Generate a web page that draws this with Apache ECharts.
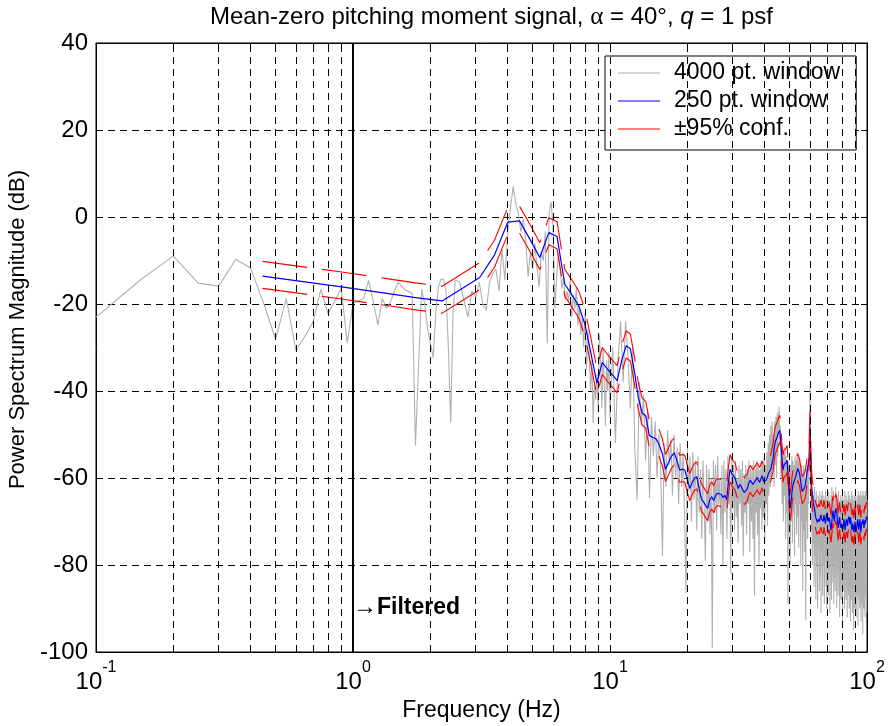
<!DOCTYPE html>
<html>
<head>
<meta charset="utf-8">
<script src="https://cdn.jsdelivr.net/npm/echarts@6/dist/echarts.min.js"></script>
<style>html,body{margin:0;padding:0;background:#fff}#c{width:888px;height:726px}</style>
</head>
<body>
<div id="c"></div>
<script>
// ---------------- DATA ----------------
const xMajorHz = [0.1, 1, 10, 100];
const xTickHz = [0.1,0.2,0.3,0.4,0.5,0.6,0.7,0.8,0.9,1,2,3,4,5,6,7,8,9,10,20,30,40,50,60,70,80,90,100];
const verticalGridHz = [0.2,0.3,0.4,0.5,0.6,0.7,0.8,0.9,2,3,4,5,6,7,8,9,10,20,30,40,50,60,70,80,90];
const filterCutoffHz = 1;
const filteredLabelAtDb = -89.7;

const seriesNames = ['4000 pt. window', '250 pt. window', '±95% conf.'];

// 4000 pt. window spectrum, in three uniformly spaced frequency segments
const grayLowStartHz = 0.10, grayLowStepHz = 0.05;
const grayLowDb = [
  -23,-14.3,-9,-15.2,-15.9,-9.7,-11.8,-20,-28.1,-18.7,
  -30.7,-27.4,-24.1,-16.6,-22.3,-19.3,-16.4,-29,-19.8,-19.3,
  -18.7,-14.6,-19.5,-24.8,-18.7,-21,-19.5,-17,-15,-16,
  -16.8,-17.2,-17.6,-52.6,-34,-16.6,-20,-25.6,-29,-32.3,
  -22,-16,-14.3,-14.3,-17,-30,-47.3,-22,-14.5
];
const grayMidStartHz = 2.6, grayMidStepHz = 0.1;
const grayMidDb = [
  -15,-19,-23,-17,-18.4,-15,-20,-21.4,-15,-13,
  -12,-17,-7.3,-14.5,-3.4,2,7,3,0.8,-3.4,
  -0.4,-5.5,-13.7,-8,-12,-6,-11.7,-16,-8,-10,
  -3.4,-29,1,3.5,-2,-21,-13.7,-8.3,-12,-16.4,
  -14,-19,-17,-19.5,-14.2,-23,-18,-21,-16,-25,
  -20.3,-27,-23,-30,-22,-35,-26,-31,-40,-33,
  -47.4,-38,-42,-36,-45,-27,-34,-44,-30,-38,
  -48,-33,-40,-31,-46
];
const grayHighStartHz = 10.25, grayHighStepHz = 0.25;
const grayHighDb = [
  -30,-52,-33,-24,  -38,-24,-32,-44,  -30,-53.6,-65,-38,  -48,-41,-56,-44,  -64.6,-46,-55,-47,
  -60,-50,-58,-78,  -52,-62,-49,-57,  -51,-64,-50,-60,  -53,-66,-52,-62,  -54,-68,-86.5,-53,
  -63,-55,-70,-54,  -65,-56,-72,-55,  -68,-58,-74,-56,  -66,-79,-57,-70,  -58,-73,-60,-99,
  -56,-68,-57,-72,  -55,-66,-60,-73,  -57,-80,-56,-68,  -58,-74,-55,-66,  -59,-82,-55,-67,
  -57,-72,-56,-69,  -60,-75,-57,-66,  -58,-71,-56,-78,  -59,-68,-57,-73,  -58,-66,-56,-77,
  -58,-70,-57,-74,  -56,-87,-58,-68,  -56,-73,-57,-80,  -58,-67,-56,-72,  -57,-69,-55,-75,
  -57,-66,-54,-71,  -52,-64,-50,-62,  -48,-60,-47,-58,  -50,-62,-47,-57,  -46,-60,-45,-55,
  -46,-43.6,-52,-48,  -60,-52,-66,-55,  -70,-54,-64,-53,  -74,-55,-68,-57,  -89,-56,-72,-58,
  -80,-57,-70,-55,  -75,-56,-68,-57,  -78,-55,-66,-56,  -73,-54,-69,-55,  -76,-56,-66,-58,
  -80,-57,-70,-59,  -86,-57,-72,-58,  -77,-60,-92.6,-58,  -70,-57,-74,-56,  -66,-55,-48,-39,
  -52,-60,-72,-62,  -80,-63,-75,-64,  -85,-62,-78,-65,  -88,-63,-80,-66,  -90,-64,-76,-65,
  -86,-63,-82,-66,  -91,-64,-77,-63,  -87,-65,-80,-64,  -89,-66,-78,-63,  -85,-65,-90,-64,
  -79,-66,-87,-63,  -82,-65,-91,-66,  -78,-64,-88,-62,  -84,-65,-80,-63,  -89,-66,-83,-64,
  -86,-62,-79,-65,  -90,-64,-82,-66,  -87,-63,-81,-65,  -92,-66,-84,-64,  -88,-65,-79,-66,
  -94.5,-64,-83,-67,  -86,-65,-90,-63,  -80,-66,-88,-64,  -85,-65,-92,-66,  -81,-63,-87,-65,
  -90,-64,-83,-66,  -93,-65,-84,-63,  -88,-66,-91,-64,  -82,-65,-95,-66,  -86,-64,-90,-63,
  -84,-65,-92,-66,  -87,-64,-83,-65,  -94,-63,-88,-66,  -81,-64,-90,-65,  -86,-63,-93,-66,
  -84,-64,-89,-65,  -96,-63,-85,-66,  -90,-64,-82,-65,  -92,-63,-87,-66,  -84,-64,-91,-65
];

// 250 pt. window spectrum and 95% confidence bounds, bins k*4/9 Hz (k = 1..225)
const welchStartHz = 4 / 9, welchStepHz = 4 / 9;
const blueDb = [
  -13.6,-16.0,-17.5,-18.6,-19.3,-16.4,-13.9,-8.7,-1.2,-0.9,
  -5.2,-9.3,-3.6,-4.5,-15.4,-17.9,-20.4,-24.8,-31.5,-38.2,
  -33.4,-35.0,-36.3,-37.6,-32.9,-29.6,-30.3,-35.5,-41.5,-45.0,
  -45.8,-50.2,-50.7,-51.0,-52.4,-54.5,-58.0,-56.5,-55.0,-54.2,
  -56.0,-58.2,-58.0,-58.2,-60.5,-62.4,-61.0,-60.0,-59.7,-62.5,
  -64.7,-65.5,-66.3,-67.0,-65.0,-64.3,-65.2,-64.0,-63.5,-63.1,
  -63.8,-64.5,-64.0,-65.0,-61.0,-58.0,-59.0,-59.5,-60.0,-61.3,
  -62.4,-61.5,-62.0,-62.8,-63.3,-63.5,-62.5,-61.2,-60.5,-60.2,
  -61.5,-61.8,-60.5,-59.9,-60.3,-61.0,-60.2,-59.5,-60.8,-61.2,
  -60.5,-60.0,-59.0,-58.5,-58.0,-57.6,-55.5,-53.0,-51.5,-51.0,
  -50.2,-49.5,-49.0,-52.0,-55.5,-58.2,-57.0,-57.0,-56.5,-55.9,
  -60.0,-64.0,-67.0,-65.5,-63.0,-61.5,-60.8,-60.5,-59.5,-58.5,
  -57.8,-57.8,-59.0,-60.5,-62.0,-63.1,-63.1,-62.5,-62.0,-61.0,
  -59.5,-58.0,-57.0,-55.0,-48.2,-56.0,-62.0,-64.0,-65.6,-66.5,
  -67.5,-69.0,-69.5,-70.2,-70.4,-69.5,-70.0,-69.0,-68.5,-69.5,
  -69.3,-70.0,-68.5,-69.5,-70.5,-69.0,-68.0,-69.5,-70.0,-69.0,
  -69.7,-71.0,-72.0,-70.5,-68.5,-67.5,-69.0,-70.0,-68.0,-67.0,
  -67.0,-68.5,-70.5,-71.5,-70.0,-69.0,-70.5,-71.5,-70.5,-71.2,
  -72.0,-71.0,-69.5,-70.5,-72.0,-70.5,-69.5,-70.0,-71.0,-69.5,
  -68.9,-69.5,-70.5,-69.0,-70.0,-71.5,-72.0,-70.5,-71.0,-72.5,
  -71.6,-70.0,-71.5,-72.5,-71.6,-70.5,-69.5,-71.0,-72.0,-70.5,
  -69.5,-71.0,-72.5,-71.0,-70.0,-70.5,-69.5,-70.2,-71.5,-70.5,
  -69.7,-70.5,-69.5,-68.9,-69.5
];
const ciUpperDb = [
  -10.2,-12.6,-14.1,-15.2,-15.9,-13.0,-10.5,-5.3,2.2,2.5,
  -1.8,-5.9,-0.2,-1.1,-12.0,-14.5,-17.0,-21.4,-28.1,-34.8,
  -30.0,-31.6,-32.9,-34.2,-29.5,-26.2,-26.9,-32.1,-38.1,-41.6,
  -42.4,-46.8,-47.3,-47.6,-49.0,-51.1,-54.6,-53.1,-51.6,-50.8,
  -52.6,-54.8,-54.6,-54.8,-57.1,-59.0,-57.6,-56.6,-56.3,-59.1,
  -61.3,-62.1,-62.9,-63.6,-61.6,-60.9,-61.8,-60.6,-60.1,-59.7,
  -60.4,-61.1,-60.6,-61.6,-57.6,-54.6,-55.6,-56.1,-56.6,-57.9,
  -59.0,-58.1,-58.6,-59.4,-59.9,-60.1,-59.1,-57.8,-57.1,-56.8,
  -58.1,-58.4,-57.1,-56.5,-56.9,-57.6,-56.8,-56.1,-57.4,-57.8,
  -57.1,-56.6,-55.6,-55.1,-54.6,-54.2,-52.1,-49.6,-48.1,-47.6,
  -46.8,-46.1,-45.6,-48.6,-52.1,-54.8,-53.6,-53.6,-53.1,-52.5,
  -56.6,-60.6,-63.6,-62.1,-59.6,-58.1,-57.4,-57.1,-56.1,-55.1,
  -54.4,-54.4,-55.6,-57.1,-58.6,-59.7,-59.7,-59.1,-58.6,-57.6,
  -56.1,-54.6,-53.6,-51.6,-44.8,-52.6,-58.6,-60.6,-62.2,-63.1,
  -64.1,-65.6,-66.1,-66.8,-67.0,-66.1,-66.6,-65.6,-65.1,-66.1,
  -65.9,-66.6,-65.1,-66.1,-67.1,-65.6,-64.6,-66.1,-66.6,-65.6,
  -66.3,-67.6,-68.6,-67.1,-65.1,-64.1,-65.6,-66.6,-64.6,-63.6,
  -63.6,-65.1,-67.1,-68.1,-66.6,-65.6,-67.1,-68.1,-67.1,-67.8,
  -68.6,-67.6,-66.1,-67.1,-68.6,-67.1,-66.1,-66.6,-67.6,-66.1,
  -65.5,-66.1,-67.1,-65.6,-66.6,-68.1,-68.6,-67.1,-67.6,-69.1,
  -68.2,-66.6,-68.1,-69.1,-68.2,-67.1,-66.1,-67.6,-68.6,-67.1,
  -66.1,-67.6,-69.1,-67.6,-66.6,-67.1,-66.1,-66.8,-68.1,-67.1,
  -66.3,-67.1,-66.1,-65.5,-66.1
];
const ciLowerDb = [
  -16.4,-18.8,-20.3,-21.4,-22.1,-19.2,-16.7,-11.5,-4.0,-3.7,
  -8.0,-12.1,-6.4,-7.3,-18.2,-20.7,-23.2,-27.6,-34.3,-41.0,
  -36.2,-37.8,-39.1,-40.4,-35.7,-32.4,-33.1,-38.3,-44.3,-47.8,
  -48.6,-53.0,-53.5,-53.8,-55.2,-57.3,-60.8,-59.3,-57.8,-57.0,
  -58.8,-61.0,-60.8,-61.0,-63.3,-65.2,-63.8,-62.8,-62.5,-65.3,
  -67.5,-68.3,-69.1,-69.8,-67.8,-67.1,-68.0,-66.8,-66.3,-65.9,
  -66.6,-67.3,-66.8,-67.8,-63.8,-60.8,-61.8,-62.3,-62.8,-64.1,
  -65.2,-64.3,-64.8,-65.6,-66.1,-66.3,-65.3,-64.0,-63.3,-63.0,
  -64.3,-64.6,-63.3,-62.7,-63.1,-63.8,-63.0,-62.3,-63.6,-64.0,
  -63.3,-62.8,-61.8,-61.3,-60.8,-60.4,-58.3,-55.8,-54.3,-53.8,
  -53.0,-52.3,-51.8,-54.8,-58.3,-61.0,-59.8,-59.8,-59.3,-58.7,
  -62.8,-66.8,-69.8,-68.3,-65.8,-64.3,-63.6,-63.3,-62.3,-61.3,
  -60.6,-60.6,-61.8,-63.3,-64.8,-65.9,-65.9,-65.3,-64.8,-63.8,
  -62.3,-60.8,-59.8,-57.8,-51.0,-58.8,-64.8,-66.8,-68.4,-69.3,
  -70.3,-71.8,-72.3,-73.0,-73.2,-72.3,-72.8,-71.8,-71.3,-72.3,
  -72.1,-72.8,-71.3,-72.3,-73.3,-71.8,-70.8,-72.3,-72.8,-71.8,
  -72.5,-73.8,-74.8,-73.3,-71.3,-70.3,-71.8,-72.8,-70.8,-69.8,
  -69.8,-71.3,-73.3,-74.3,-72.8,-71.8,-73.3,-74.3,-73.3,-74.0,
  -74.8,-73.8,-72.3,-73.3,-74.8,-73.3,-72.3,-72.8,-73.8,-72.3,
  -71.7,-72.3,-73.3,-71.8,-72.8,-74.3,-74.8,-73.3,-73.8,-75.3,
  -74.4,-72.8,-74.3,-75.3,-74.4,-73.3,-72.3,-73.8,-74.8,-73.3,
  -72.3,-73.8,-75.3,-73.8,-72.8,-73.3,-72.3,-73.0,-74.3,-73.3,
  -72.5,-73.3,-72.3,-71.7,-72.3
];

// ---------------- BUILD ----------------
function pairs(startHz, stepHz, values) {
  return values.map((v, i) => [+(startHz + i * stepHz).toFixed(5), v]);
}
const grayData = pairs(grayLowStartHz, grayLowStepHz, grayLowDb)
  .concat(pairs(grayMidStartHz, grayMidStepHz, grayMidDb))
  .concat(pairs(grayHighStartHz, grayHighStepHz, grayHighDb));
const blueData = pairs(welchStartHz, welchStepHz, blueDb);
const upperData = pairs(welchStartHz, welchStepHz, ciUpperDb);
const lowerData = pairs(welchStartHz, welchStepHz, ciLowerDb);

const FONT = '"Liberation Sans", Arial, Helvetica, sans-serif';
const GRID_DASH = [7, 5];

const chart = echarts.init(document.getElementById('c'), null, { renderer: 'canvas' });

const xAxisCommon = {
  type: 'log', logBase: 10, min: 0.1, max: 100,
  axisLine: { show: true, onZero: false, lineStyle: { color: '#000', width: 1 } },
  axisTick: { show: true, inside: true, length: 6, lineStyle: { color: '#000' }, customValues: xTickHz },
  splitLine: { show: false },
  minorTick: { show: false },
  minorSplitLine: { show: false }
};
const yAxisCommon = {
  type: 'value', min: -100, max: 40, interval: 20,
  axisLine: { show: true, onZero: false, lineStyle: { color: '#000', width: 1 } },
  axisTick: { show: true, inside: true, length: 6, lineStyle: { color: '#000' } }
};

const option = {
  backgroundColor: '#fff',
  animation: false,
  title: {
    text: '{n|Mean-zero pitching moment signal, }{g|α}{n| = 40°, }{i|q}{n| = 1 psf}',
    left: 205, top: 0,
    textStyle: {
      fontWeight: 'normal',
      rich: {
        n: { fontFamily: FONT, fontSize: 24, fontWeight: 'normal', color: '#000' },
        g: { fontFamily: '"Liberation Serif", serif', fontSize: 25, fontWeight: 'normal', color: '#000' },
        i: { fontFamily: FONT, fontSize: 24, fontStyle: 'italic', fontWeight: 'normal', color: '#000' }
      }
    }
  },
  grid: {
    left: 96, right: 21, top: 43, bottom: 74,
    outerBoundsMode: 'none', containLabel: false,
    show: true, borderColor: '#000', borderWidth: 1, backgroundColor: '#fff'
  },
  legend: {
    data: seriesNames.map(n => ({ name: n, icon: 'rect' })),
    orient: 'vertical',
    left: 605, top: 56,
    padding: [3, 16, 7, 13],
    itemGap: 0,
    itemWidth: 42, itemHeight: 1.2,
    backgroundColor: '#fff',
    borderColor: '#000', borderWidth: 1,
    selectedMode: false,
    textStyle: { fontFamily: FONT, fontSize: 23, color: '#000', lineHeight: 28, padding: [0, 0, 0, 9] }
  },
  xAxis: [
    Object.assign({}, xAxisCommon, {
      position: 'bottom',
      axisLabel: {
        show: true, margin: 8, customValues: xMajorHz,
        formatter: v => '{b|10}{s|' + Math.round(Math.log10(v)) + '}',
        rich: {
          b: { fontFamily: FONT, fontSize: 24, color: '#000', lineHeight: 34, verticalAlign: 'bottom' },
          s: { fontFamily: FONT, fontSize: 16, color: '#000', lineHeight: 18, verticalAlign: 'top' }
        }
      },
      name: 'Frequency (Hz)', nameLocation: 'middle', nameGap: 47,
      nameTextStyle: { fontFamily: FONT, fontSize: 23, color: '#000' }
    }),
    Object.assign({}, xAxisCommon, { position: 'top', axisLabel: { show: false } })
  ],
  yAxis: [
    Object.assign({}, yAxisCommon, {
      position: 'left',
      axisLabel: { show: true, margin: 8, fontFamily: FONT, fontSize: 24, color: '#000' },
      splitLine: { show: true, lineStyle: { type: GRID_DASH, color: '#000', width: 1 } },
      name: 'Power Spectrum Magnitude (dB)', nameLocation: 'middle', nameGap: 60, nameRotate: 90,
      nameTextStyle: { fontFamily: FONT, fontSize: 22, color: '#000', padding: [0, 0, 0, 36] }
    }),
    Object.assign({}, yAxisCommon, { position: 'right', axisLabel: { show: false }, splitLine: { show: false } })
  ],
  series: [
    {
      name: 'gridlines', type: 'line', data: [], silent: true, z: 1,
      markLine: {
        silent: true, animation: false, symbol: ['none', 'none'], label: { show: false },
        emphasis: { disabled: true },
        lineStyle: { type: GRID_DASH, color: '#000', width: 1 },
        data: verticalGridHz.map(v => ({ xAxis: v }))
      }
    },
    {
      name: seriesNames[0], type: 'line', data: grayData, z: 2,
      symbol: 'none', showSymbol: false, sampling: null,
      lineStyle: { color: '#b0b0b0', width: 1.1 }, itemStyle: { color: '#b0b0b0' },
      emphasis: { disabled: true }
    },
    {
      name: seriesNames[1], type: 'line', data: blueData, z: 3,
      symbol: 'none', showSymbol: false,
      lineStyle: { color: '#0000ff', width: 1.2 }, itemStyle: { color: '#0000ff' },
      emphasis: { disabled: true }
    },
    {
      name: seriesNames[2], type: 'line', data: upperData, z: 4,
      symbol: 'none', showSymbol: false,
      lineStyle: { color: '#ff0000', width: 1.1, type: [45, 15] }, itemStyle: { color: '#ff0000' },
      emphasis: { disabled: true }
    },
    {
      name: seriesNames[2], type: 'line', data: lowerData, z: 4,
      symbol: 'none', showSymbol: false,
      lineStyle: { color: '#ff0000', width: 1.1, type: [45, 15] }, itemStyle: { color: '#ff0000' },
      emphasis: { disabled: true }
    },
    {
      name: 'filtered', type: 'line', data: [], silent: true, z: 5,
      markLine: {
        silent: true, animation: false, symbol: ['none', 'none'], label: { show: false },
        emphasis: { disabled: true },
        lineStyle: { type: 'solid', color: '#000', width: 2 },
        data: [{ xAxis: filterCutoffHz }]
      },
      markPoint: {
        silent: true, animation: false, symbol: 'circle', symbolSize: 0,
        itemStyle: { color: 'rgba(0,0,0,0)' },
        label: {
          show: true, position: 'right', distance: 0,
          formatter: '{a|→}{b|Filtered}',
          rich: {
            a: { fontFamily: FONT, fontSize: 24, color: '#000' },
            b: { fontFamily: FONT, fontSize: 23, fontWeight: 'bold', color: '#000' }
          }
        },
        data: [{ coord: [filterCutoffHz, filteredLabelAtDb] }]
      }
    }
  ]
};
chart.setOption(option);
</script>
</body>
</html>
